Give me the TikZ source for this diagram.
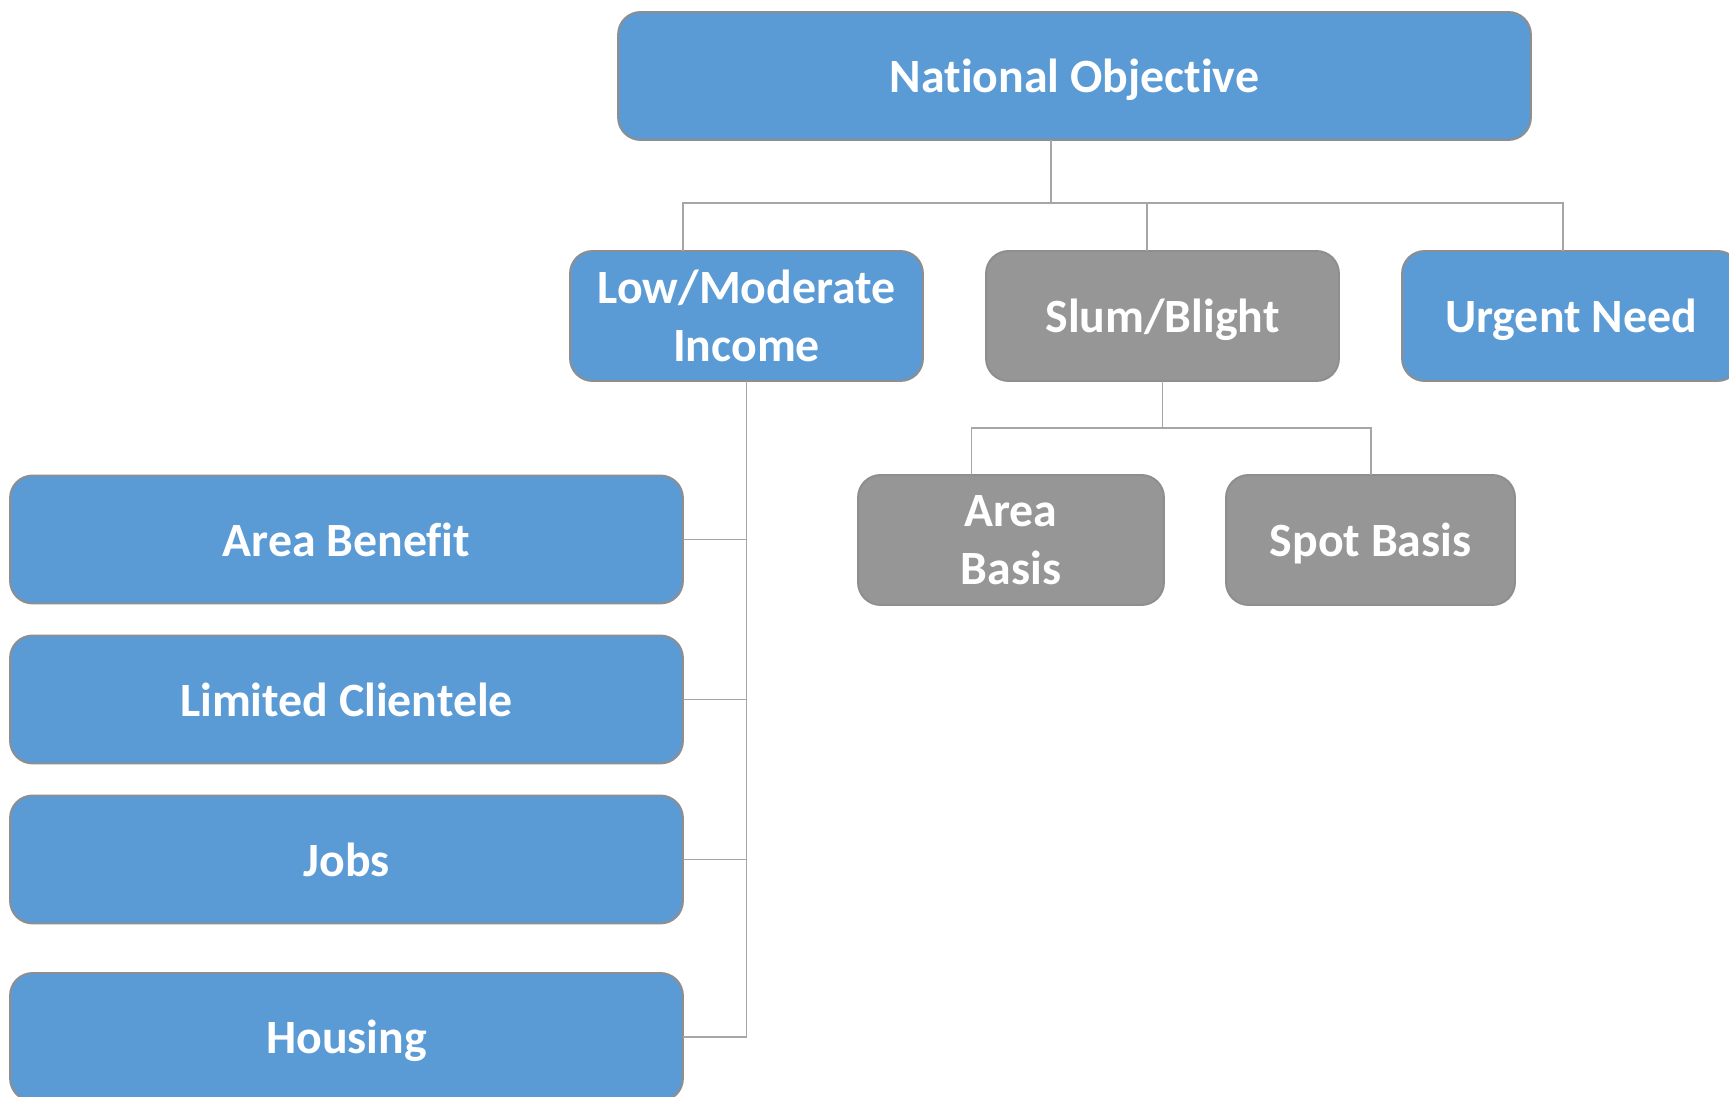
\documentclass[tikz,border=0pt]{standalone}
\usepackage{fontspec}
\setmainfont{Carlito}[Ligatures=NoCommon]
\definecolor{MBlue}{HTML}{5B9BD5}
\definecolor{MGray}{HTML}{969696}
\definecolor{MEdge}{HTML}{8E8E8E}
\definecolor{MLine}{HTML}{A6A6A6}

\begin{document}
\begin{tikzpicture}[x=0.02cm, y=-0.02cm,
		box/.style={draw=MEdge, line width=1.1pt, rounded corners=0.45cm, text=white, align=center, outer sep=0pt, inner sep=0pt, text depth=0pt, minimum height=2.56cm, font=\fontsize{27.2}{33}\selectfont\bfseries},
		bluebox/.style={box, fill=MBlue},
		graybox/.style={box, fill=MGray},
		link/.style={MLine, line width=0.6pt}]
			\useasboundingbox (0,0) rectangle (1729,1097);
			
			\node[bluebox, minimum width=18.26cm] (nat) at (1074.5,76) {National Objective};
			
			\node[bluebox, minimum width=7.06cm, minimum height=2.6cm] (low) at (746.5,316) {Low/Moderate\\Income};
			\node[graybox, minimum width=7.06cm, minimum height=2.6cm] (slum) at (1162.5,316) {Slum/Blight};
			\node[bluebox, minimum width=6.76cm, minimum height=2.6cm] (urgent) at (1571,316) {Urgent Need};
			
			\node[graybox, minimum width=6.12cm, minimum height=2.6cm] (abasis) at (1011,540) {Area\\Basis};
			\node[graybox, minimum width=5.78cm, minimum height=2.6cm] (spot) at (1370.5,540) {Spot Basis};
			
			\node[bluebox, minimum width=13.46cm] (benefit) at (346.5,539.5) {Area Benefit};
			\node[bluebox, minimum width=13.46cm] (clientele) at (346.5,699.5) {Limited Clientele};
			\node[bluebox, minimum width=13.46cm] (jobs) at (346.5,859.5) {Jobs};
			\node[bluebox, minimum width=13.46cm] (housing) at (346.5,1037) {Housing};
			
			\coordinate (natdrop) at (1051,203);
			\coordinate (busL) at (683,203);
			\coordinate (busR) at (1563,203);
			\coordinate (slumdrop) at (1147,203);
			\coordinate (subL) at (971.5,428);
			\coordinate (subR) at (1371,428);
			
			\draw[link] (nat.south -| natdrop) -- (natdrop);
			\draw[link] (low.north -| busL) -- (busL) -- (busR) -- (urgent.north -| busR);
			\draw[link] (slum.north -| slumdrop) -- (slumdrop);
			
			\draw[link] (slum.south) -- (slum.south |- subL);
			\draw[link] (abasis.north -| subL) -- (subL) -- (subR) -- (spot.north -| subR);
			
			\draw[link] (low.south) |- (housing.east);
			\draw[link] (benefit.east) -- (benefit.east -| low.south);
			\draw[link] (clientele.east) -- (clientele.east -| low.south);
			\draw[link] (jobs.east) -- (jobs.east -| low.south);
		\end{tikzpicture}
\end{document}
